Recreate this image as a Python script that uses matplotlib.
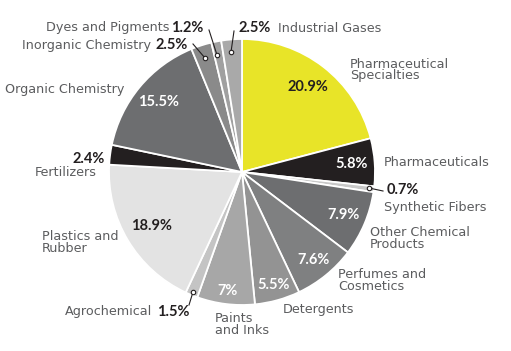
import numpy as np
import matplotlib
matplotlib.use("Agg")
import matplotlib.pyplot as plt

# slice data, clockwise from 12 o'clock
names = ["Pharmaceutical\nSpecialties", "Pharmaceuticals", "Synthetic Fibers",
         "Other Chemical\nProducts", "Perfumes and\nCosmetics", "Detergents",
         "Paints\nand Inks", "Agrochemical", "Plastics and\nRubber", "Fertilizers",
         "Organic Chemistry", "Inorganic Chemistry", "Dyes and Pigments",
         "Industrial Gases"]
shares = [20.9, 5.8, 0.7, 7.9, 7.6, 5.5, 7, 1.5, 18.9, 2.4, 15.5, 2.5, 1.2, 2.5]
pct_text = ["20.9%", "5.8%", "0.7%", "7.9%", "7.6%", "5.5%", "7%", "1.5%",
            "18.9%", "2.4%", "15.5%", "2.5%", "1.2%", "2.5%"]
colors = ["#e8e428", "#231f20", "#c8c8c8", "#6d6e70", "#7f8081", "#939393",
          "#a7a7a7", "#c4c4c4", "#e3e3e3", "#231f20", "#6d6e70", "#8a8a8a",
          "#a0a0a0", "#a9a9a9"]

W, H = 511, 351
CX, CY, R = 242, 172, 133

fig = plt.figure(figsize=(W / 100, H / 100), dpi=100)
ax = fig.add_axes([(CX - R) / W, (H - CY - R) / H, 2 * R / W, 2 * R / H])

wedges, _ = ax.pie(shares, colors=colors, startangle=90, counterclock=False,
                   radius=1, wedgeprops=dict(edgecolor="white", linewidth=1.3))
ax.set_xlim(-1, 1)
ax.set_ylim(-1, 1)
ax.set_aspect("equal")
ax.axis("off")

LBL = "#5b5c5e"
FS = 9.2
PCT = dict(family="Lato", fontweight="bold", fontsize=10.5)


def px(x, y):
    return (x - CX) / R, (CY - y) / R


# percentages inside the slices
inside = {0: (0.81, "#231f20"), 1: (0.83, "white"), 3: (0.83, "white"),
          4: (0.85, "white"), 5: (0.88, "white"), 6: (0.9, "white"),
          8: (0.79, "#231f20"), 10: (0.82, "white")}
for i, (dist, col) in inside.items():
    w = wedges[i]
    a = np.deg2rad((w.theta1 + w.theta2) / 2)
    ax.text(dist * np.cos(a), dist * np.sin(a), pct_text[i], ha="center",
            va="center", color=col, **PCT)

# plain outside labels (pixel positions)
plain = {0: (350, 70, "left"), 1: (384, 163, "left"), 3: (370, 239, "left"),
         4: (338, 281, "left"), 5: (283, 310, "left"), 6: (215, 324, "left"),
         8: (42, 243, "left"), 10: (5, 89, "left")}
for i, (x, y, ha) in plain.items():
    ax.text(*px(x, y), names[i], ha=ha, va="center", fontsize=FS, color=LBL,
            linespacing=0.9, clip_on=False)

# small slices with leader lines
# index: (dot px, line end px, pct pos px, pct ha, name pos px, name ha)
small = {
    2: ((369, 188), (383, 191), (387, 190), "left", (384, 207), "left"),
    7: ((193, 292), (189, 305), (190, 312), "right", (152, 312), "right"),
    9: (None, None, (105, 159), "right", (97, 173), "right"),
    11: ((205, 58), (193, 44), (188, 45), "right", (151, 45), "right"),
    12: ((217, 55), (209, 30), (203, 28), "right", (169, 28), "right"),
    13: ((231, 52), (234, 31), (238, 28), "left", (278, 28), "left"),
}
for i, (dot, end, ppos, pha, npos, nha) in small.items():
    if dot is not None:
        ax.plot(*zip(px(*dot), px(*end)), color="#231f20", lw=0.8,
                clip_on=False)
        ax.plot(*px(*dot), marker="o", ms=3.2, mfc="white", mec="#231f20",
                mew=0.8, clip_on=False)
    ax.text(*px(*ppos), pct_text[i], ha=pha, va="center", color="#231f20",
            clip_on=False, **PCT)
    ax.text(*px(*npos), names[i], ha=nha, va="center", fontsize=FS,
            color=LBL, clip_on=False)

fig.savefig("out.png", dpi=100)
